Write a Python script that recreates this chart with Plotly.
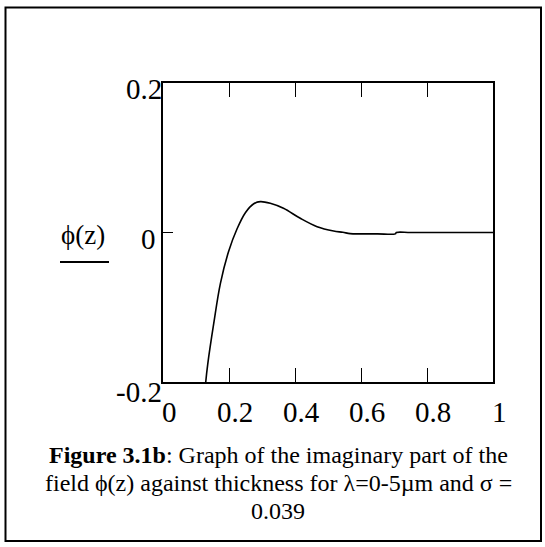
import plotly.graph_objects as go

# ---- data ----
z_values = [0.118, 0.1295, 0.1356, 0.1538, 0.174, 0.199, 0.2245, 0.2496, 0.275, 0.295,
            0.325, 0.365, 0.416, 0.467, 0.517, 0.545, 0.567, 0.6, 0.65, 0.704,
            0.707, 0.75, 0.85, 1.0]
phi_values = [-0.265, -0.2, -0.176, -0.1217, -0.068, -0.025, 0.005, 0.0265, 0.0385, 0.0413,
              0.0391, 0.0324, 0.019, 0.0078, 0.002, 0.0003, -0.0015, -0.0018, -0.0018, -0.0018,
              0.0, 0.0, 0.0, 0.0]
x_tick_vals = [0, 0.2, 0.4, 0.6, 0.8, 1]
x_tick_text = ["0", "0.2", "0.4", "0.6", "0.8", "1"]
y_tick_vals = [0.2, 0, -0.2]
y_tick_text = ["0.2", "0", "-0.2"]
y_title = "ϕ(z)"
caption_lines = ["<b>Figure 3.1b</b>: Graph of the imaginary part of the",
                 "field ϕ(z) against thickness for λ=0-5µm and σ =",
                 "0.039"]

# ---- layout geometry (pixels) ----
W, H = 545, 547
L, R, T, B = 163, 52, 83, 165
PW, PH = W - L - R, H - T - B
FONT = "Liberation Serif, Times New Roman, serif"


def px_x(px):
    return (px - L) / PW


def px_y(py):
    return (H - B - py) / PH


fig = go.Figure()
fig.add_trace(go.Scatter(x=z_values, y=phi_values, mode="lines",
                         line=dict(color="black", width=1.6, shape="spline", smoothing=1.0),
                         hoverinfo="skip", showlegend=False))

fig.update_layout(
    width=W, height=H, autosize=False,
    margin=dict(l=L, r=R, t=T, b=B, pad=0),
    paper_bgcolor="white", plot_bgcolor="white",
    font=dict(family=FONT, color="black"),
    showlegend=False,
)
fig.update_xaxes(range=[0, 1], tickvals=[0.2, 0.4, 0.6, 0.8], ticks="inside", ticklen=14,
                 tickwidth=1.3, tickcolor="black", showticklabels=False, showgrid=False,
                 zeroline=False, showline=True, linecolor="black", linewidth=1.5, mirror="ticks")
fig.update_yaxes(range=[-0.2, 0.2], tickvals=[0], ticks="inside", ticklen=10,
                 tickwidth=1.3, tickcolor="black", showticklabels=False, showgrid=False,
                 zeroline=False, showline=True, linecolor="black", linewidth=1.5, mirror=True)

ann = []
for v, t in zip(x_tick_vals, x_tick_text):
    ann.append(dict(x=v, y=0, xref="x", yref="paper", text=t, showarrow=False,
                    xanchor="center", yanchor="middle", xshift=6, yshift=-30,
                    font=dict(size=29, family=FONT, color="black")))
y_label_shift = {"0.2": (1, -6), "0": (-5, -6), "-0.2": (1, -10)}
for v, t in zip(y_tick_vals, y_tick_text):
    dx, dy = y_label_shift[t]
    ann.append(dict(x=0, y=v, xref="paper", yref="y", text=t, showarrow=False,
                    xanchor="right", yanchor="middle", xshift=dx, yshift=dy,
                    font=dict(size=29, family=FONT, color="black")))
ann.append(dict(x=px_x(83), y=px_y(235), xref="paper", yref="paper", text=y_title,
                showarrow=False, xanchor="center", yanchor="middle",
                font=dict(size=27, family=FONT, color="black")))
for i, line in enumerate(caption_lines):
    ann.append(dict(x=px_x(278), y=px_y(455 + 28 * i), xref="paper", yref="paper", text=line,
                    showarrow=False, xanchor="center", yanchor="middle",
                    font=dict(size=24, family=FONT, color="black")))
fig.update_layout(annotations=ann)

shapes = [
    dict(type="line", xref="paper", yref="paper", x0=px_x(60), x1=px_x(109),
         y0=px_y(262), y1=px_y(262), line=dict(color="black", width=2)),
    dict(type="rect", xref="paper", yref="paper", x0=px_x(5.5), x1=px_x(541),
         y0=px_y(541), y1=px_y(7.5), line=dict(color="black", width=2)),
]
fig.update_layout(shapes=shapes)

fig.write_html("out.html")
